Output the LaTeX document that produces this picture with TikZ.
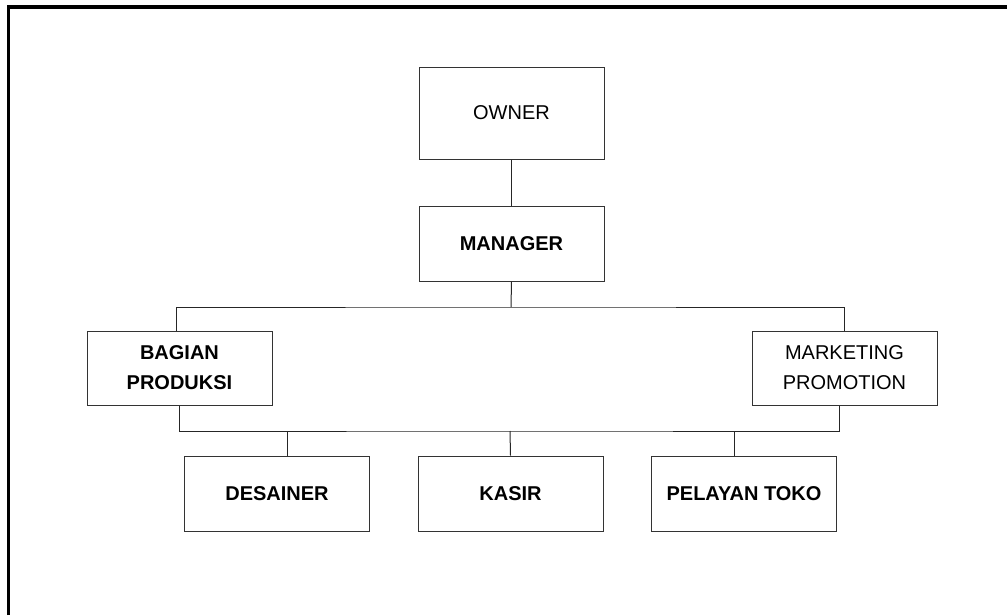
\documentclass[tikz,border=0pt]{standalone}
\usepackage{fontspec}
\setmainfont{Liberation Sans}
\begin{document}
\begin{tikzpicture}[x=0.75pt,y=-0.75pt,
  box/.style={draw=black!80,line width=0.75pt,minimum width=138.75pt,minimum height=56.25pt,inner sep=0pt,align=center,font=\fontsize{15}{22.5}\selectfont\bfseries},
  light/.style={font=\fontsize{15}{22.5}\selectfont},
  conn/.style={draw=black!85,line width=0.75pt}]
\useasboundingbox (0,0) rectangle (1007,615);
\draw[line width=2.8pt,line cap=butt] (8.5,615) -- (8.5,7) -- (1007,7);
\node[box,light,minimum height=69pt] (owner) at (511.5,113) {OWNER};
\node[box] (manager) at (511.5,243.5) {MANAGER};
\node[box,minimum height=55.5pt] (bagian) at (179.5,368) {BAGIAN\\PRODUKSI};
\node[box,light,minimum height=55.5pt] (marketing) at (844.5,368) {MARKETING\\PROMOTION};
\node[box] (desainer) at (277,493.5) {DESAINER};
\node[box] (kasir) at (510.5,493.5) {KASIR};
\node[box] (pelayan) at (744,493.5) {PELAYAN TOKO};
\coordinate (bus1) at (511,307);
\coordinate (bus2) at (510,431);
\draw[conn] (owner.south) -- (manager.north);
\draw[conn] (manager.south) -- (bus1);
\draw[conn] ([xshift=-2.6pt]bagian.north) |- (bus1) -| (marketing.north);
\draw[conn] (bagian.south) |- (bus2) -| ([xshift=-3.4pt]marketing.south);
\draw[conn] (bus2) -- (kasir.north);
\draw[conn] ([xshift=7.5pt]desainer.north) -- ([xshift=7.5pt]desainer.north |- bus2);
\draw[conn] ([xshift=-7.5pt]pelayan.north) -- ([xshift=-7.5pt]pelayan.north |- bus2);
\end{tikzpicture}
\end{document}
